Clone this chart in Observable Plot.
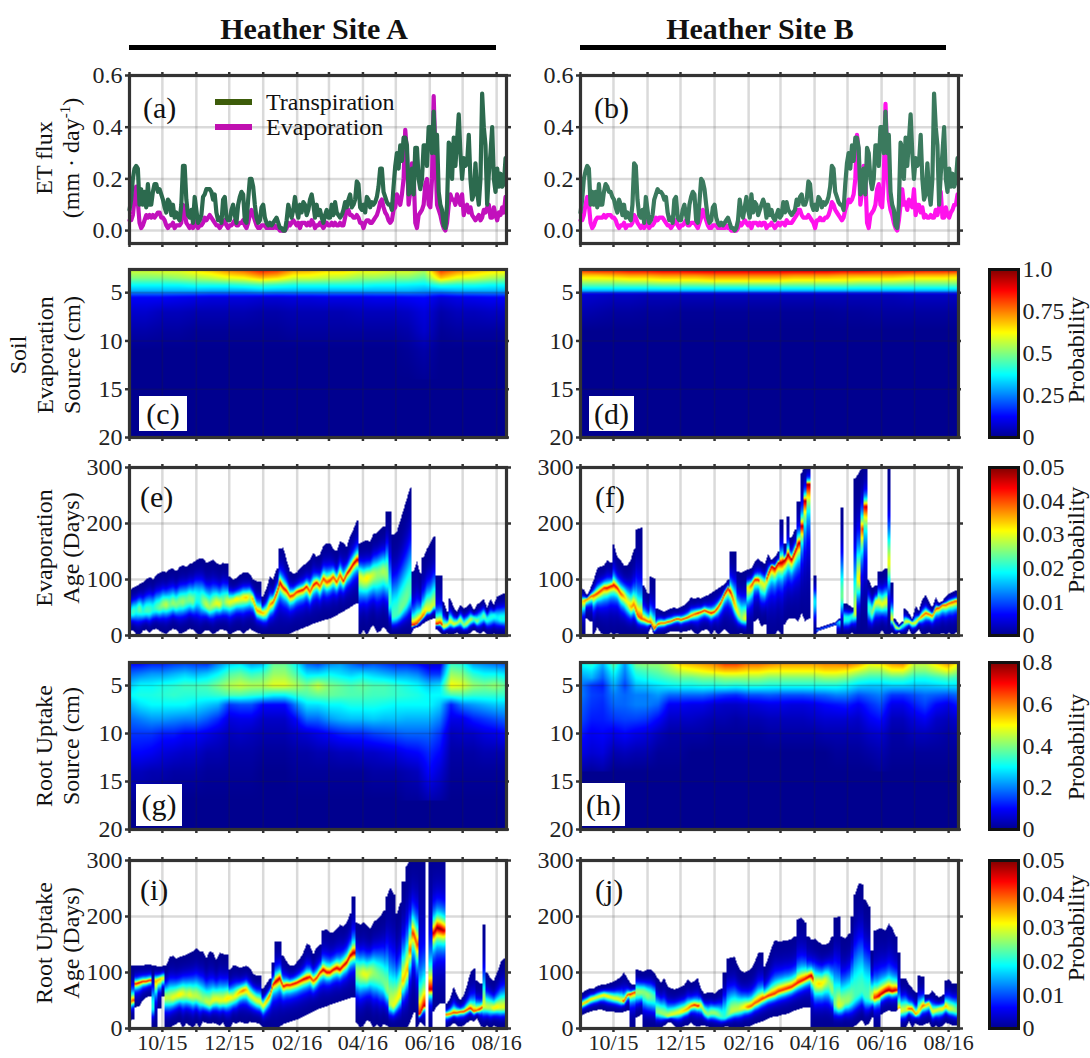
<!DOCTYPE html>
<html><head><meta charset="utf-8">
<style>
html,body{margin:0;padding:0;background:#fff}
#page{position:relative;width:1090px;height:1058px;overflow:hidden;font-family:"Liberation Serif",serif;color:#111}
.t{position:absolute;white-space:nowrap;line-height:1}
.rot{transform:translate(-50%,-50%) rotate(-90deg);text-align:center;font-size:24px;line-height:27px}
.lab{font-size:30px}
.box{background:#fff;display:flex;align-items:center;justify-content:center;font-size:30px;position:absolute}
sup{font-size:15px;line-height:0}
</style>
<script src="https://cdn.jsdelivr.net/npm/d3@7"></script>
<script src="https://cdn.jsdelivr.net/npm/@observablehq/plot@0.6"></script>
</head><body><div id="page"></div>
<script>
// ---------- time axis: days after 1 Sep 2015 ----------
const monthTicks = [0,30,61,91,122,153,182,213,243,274,304,335];
const monthLabels = ["","10/15","","12/15","","02/16","","04/16","","06/16","","08/16"];
const lastDay = 344;
const columnStep = 3.05; // age series: ten readings per month
const fluxStep = 1.525;  // flux series: twenty readings per month

// ---------- ET flux (mm/day) ----------
const transpirationA = [
.08,.12,.2,.24,.25,.24,.1,.16,.1,.15,.09,.18,.1,.1,.15,.18,.18,.15,.16,.14,
.12,.09,.07,.12,.11,.06,.1,.05,.07,.05,.04,.1,.25,.25,.12,.06,.05,.08,.03,.13,
.08,.03,.04,.06,.13,.14,.16,.16,.16,.15,.12,.14,.07,.04,.05,.03,.12,.13,.05,.04,
.04,.08,.1,.06,.03,.1,.13,.15,.14,.04,.03,.12,.2,.2,.17,.1,.05,.03,.04,.09,
.1,.05,.03,.02,.03,.02,.03,.04,.05,.03,.01,.01,.0,.0,.04,.1,.07,.05,.08,.13,
.08,.05,.1,.07,.11,.1,.06,.08,.12,.14,.1,.05,.1,.06,.08,.05,.03,.06,.08,.05,
.05,.1,.06,.11,.07,.06,.05,.06,.08,.11,.09,.12,.14,.09,.1,.12,.19,.18,.09,.08,
.1,.07,.13,.12,.09,.11,.1,.11,.13,.17,.24,.24,.15,.13,.11,.1,.1,.08,.17,.25,
.3,.24,.33,.27,.36,.36,.33,.14,.15,.24,.14,.32,.32,.2,.16,.2,.33,.33,.25,.4,
.4,.3,.46,.3,.37,.15,.1,.08,.02,.01,.1,.34,.33,.2,.36,.25,.35,.45,.3,.2,
.28,.25,.26,.37,.2,.12,.14,.26,.15,.1,.2,.53,.4,.33,.1,.22,.3,.4,.2,.15,
.24,.17,.22,.17,.18,.28];
const evaporationA = [
.04,.04,.06,.12,.17,.11,.03,.01,.02,.04,.06,.05,.06,.05,.06,.05,.06,.07,.07,.05,
.05,.04,.02,.01,.02,.02,.03,.01,.02,.02,.02,.03,.1,.07,.03,.02,.01,.02,.01,.04,
.02,.01,.02,.02,.03,.05,.04,.05,.06,.05,.04,.03,.02,.02,.01,.02,.03,.04,.02,.01,
.02,.02,.03,.04,.02,.02,.03,.03,.04,.02,.01,.03,.06,.08,.06,.04,.02,.01,.01,.02,
.02,.02,.01,.01,.01,.01,.01,.02,.01,.01,.0,.0,.0,.0,.01,.03,.02,.03,.04,.03,
.02,.03,.01,.03,.03,.03,.02,.03,.02,.04,.03,.01,.02,.02,.03,.02,.01,.02,.03,.02,
.02,.03,.02,.03,.02,.02,.03,.02,.02,.05,.08,.08,.06,.06,.05,.05,.06,.05,.03,.03,
.01,.03,.04,.04,.03,.03,.04,.05,.06,.08,.11,.12,.09,.07,.06,.04,.03,.04,.08,.09,
.14,.12,.1,.14,.2,.39,.3,.1,.15,.26,.22,.03,.01,.06,.07,.08,.1,.18,.2,.1,
.09,.2,.52,.3,.1,.08,.06,.03,.01,.0,.03,.1,.14,.12,.12,.1,.14,.12,.1,.14,
.06,.09,.1,.07,.09,.06,.05,.04,.05,.06,.04,.05,.08,.07,.09,.1,.05,.05,.09,.06,
.04,.07,.06,.09,.07,.13];
const transpirationB = [
.07,.12,.2,.23,.25,.24,.1,.15,.1,.15,.09,.18,.1,.1,.15,.18,.17,.15,.15,.13,
.12,.09,.07,.12,.1,.06,.1,.05,.07,.05,.04,.1,.26,.25,.12,.06,.05,.08,.03,.13,
.08,.03,.04,.06,.12,.14,.16,.15,.15,.14,.12,.13,.07,.04,.05,.03,.12,.13,.05,.04,
.04,.08,.1,.06,.03,.1,.13,.15,.14,.04,.03,.11,.2,.19,.16,.1,.05,.03,.04,.09,
.1,.05,.03,.02,.03,.02,.03,.04,.05,.03,.01,.01,.0,.01,.04,.12,.07,.05,.09,.13,
.08,.05,.14,.07,.11,.1,.06,.08,.1,.12,.1,.05,.1,.06,.08,.05,.04,.06,.08,.05,
.06,.11,.07,.11,.08,.07,.06,.07,.08,.12,.1,.13,.14,.1,.1,.12,.19,.18,.1,.08,
.1,.08,.13,.12,.09,.11,.1,.11,.13,.17,.25,.24,.15,.13,.11,.1,.1,.08,.18,.26,
.3,.24,.33,.27,.36,.36,.32,.14,.15,.24,.14,.32,.3,.2,.16,.2,.33,.33,.25,.4,
.4,.3,.46,.3,.37,.15,.1,.08,.02,.01,.1,.34,.32,.2,.36,.25,.35,.45,.3,.2,
.28,.25,.26,.37,.2,.12,.14,.26,.15,.1,.2,.53,.4,.33,.1,.22,.3,.4,.2,.15,
.24,.17,.22,.17,.19,.28];
const evaporationB = [
.04,.04,.06,.1,.13,.1,.03,.01,.02,.04,.05,.05,.05,.05,.06,.05,.06,.06,.06,.05,
.05,.04,.02,.01,.02,.02,.03,.01,.02,.02,.02,.03,.06,.05,.03,.02,.01,.02,.01,.04,
.02,.01,.02,.02,.03,.05,.04,.05,.05,.05,.04,.03,.02,.02,.01,.02,.03,.04,.02,.01,
.02,.02,.03,.04,.02,.02,.03,.03,.03,.02,.01,.03,.05,.08,.06,.04,.02,.01,.01,.02,
.02,.02,.01,.01,.01,.01,.01,.02,.01,.01,.0,.0,.0,.0,.01,.03,.02,.03,.04,.03,
.02,.03,.01,.03,.03,.03,.02,.03,.02,.03,.03,.01,.02,.02,.03,.02,.01,.02,.03,.02,
.03,.03,.02,.04,.03,.03,.03,.04,.05,.06,.08,.08,.06,.05,.05,.05,.06,.05,.04,.03,
.01,.04,.04,.05,.04,.04,.05,.05,.06,.08,.11,.1,.08,.07,.06,.05,.04,.05,.08,.1,
.12,.11,.12,.14,.2,.37,.3,.1,.15,.25,.2,.03,.01,.06,.07,.08,.1,.16,.18,.1,
.09,.2,.49,.28,.12,.08,.06,.03,.01,.0,.04,.1,.16,.1,.11,.08,.12,.1,.09,.16,
.06,.1,.1,.07,.09,.05,.06,.05,.05,.06,.05,.05,.08,.06,.09,.15,.05,.05,.09,.06,
.05,.07,.08,.1,.1,.14];

// ---------- source panels: probability by depth (cm) ----------
const depthsC = [2.7,3.5,4.2,4.8,5.5,7,9,11,14];
const c27 = [.58,.58,.6,.6,.64,.68,.74,.78,.85,.82,.72,.7,.66,.66,.62,.62,.6,.6,.55,.82,.75,.7,.66,.64];
const c35 = [.5,.5,.5,.52,.54,.56,.6,.62,.68,.65,.58,.58,.56,.55,.52,.52,.5,.5,.46,.68,.6,.58,.54,.52];
const c42 = [.38,.38,.38,.38,.4,.4,.4,.42,.44,.42,.4,.4,.4,.4,.4,.38,.38,.37,.36,.42,.4,.4,.38,.38];
const c48 = [.3,.3,.3,.3,.3,.29,.29,.29,.31,.3,.3,.3,.3,.3,.3,.3,.3,.3,.28,.28,.3,.3,.3,.3];
const c55 = [.12,.12,.12,.11,.1,.09,.09,.09,.08,.08,.09,.09,.1,.1,.1,.11,.11,.12,.13,.08,.1,.11,.12,.12];
const c70 = [.07,.07,.05,.05,.04,.04,.04,.04,.03,.03,.04,.04,.04,.04,.05,.05,.05,.06,.09,.03,.05,.05,.06,.06];
const c90 = [.03,.03,.02,.02,.01,.01,.01,.01,.01,.01,.02,.02,.02,.02,.02,.02,.02,.03,.07,.01,.02,.02,.02,.02];
const c110 = [0,0,0,0,0,0,0,0,0,0,0,0,0,0,0,0,0,.01,.03,0,0,0,0,0];
const c140 = [0,0,0,0,0,0,0,0,0,0,0,0,0,0,0,0,0,0,.01,0,0,0,0,0];

const depthsD = [2.7,3.2,3.8,4.3,4.8,5.2,7,9,12];
const d27 = [.82,.85,.85,.88,.88,.9,.9,.92,.92,.92,.92,.92,.92,.92,.92,.92,.9,.9,.88,.88,.88,.86,.86,.85];
const d32 = [.68,.68,.7,.72,.72,.74,.74,.74,.76,.76,.76,.76,.76,.74,.74,.74,.72,.72,.72,.72,.7,.7,.7,.68];
const d38 = [.56,.56,.56,.58,.58,.6,.6,.6,.62,.62,.62,.62,.62,.6,.6,.6,.6,.58,.58,.58,.56,.56,.56,.56];
const d43 = [.44,.44,.44,.44,.44,.45,.45,.45,.45,.45,.45,.45,.45,.45,.45,.45,.45,.44,.44,.44,.44,.44,.44,.44];
const d48 = [.3,.3,.3,.3,.3,.3,.3,.3,.3,.3,.3,.3,.3,.3,.3,.3,.3,.3,.3,.3,.3,.3,.3,.3];
const d52 = [.08,.07,.06,.06,.05,.05,.05,.05,.05,.05,.05,.05,.05,.05,.05,.05,.05,.05,.05,.05,.06,.06,.06,.06];
const d70 = [.04,.03,.02,.02,.015,.015,.01,.01,.01,.01,.01,.01,.01,.01,.01,.01,.015,.015,.02,.02,.02,.02,.02,.02];
const d90 = [0,0,0,0,0,0,0,0,0,0,0,0,0,0,0,0,0,0,0,0,0,0,0,0];
const d120 = [0,0,0,0,0,0,0,0,0,0,0,0,0,0,0,0,0,0,0,0,0,0,0,0];

const depthsG = [2.7,3.8,5,6,7,8.5,10,12,14,17];
const g27 = [.1,.1,.12,.12,.14,.15,.14,.13,.2,.26,.28,.22,.24,.38,.38,.3,.18,.15,.2,.22,.18,.14,.16,.14,.12,.12,.1,.06,.06,.34,.32,.22,.2,.18,.16];
const g38 = [.18,.2,.22,.22,.24,.26,.24,.26,.3,.36,.38,.34,.36,.42,.42,.36,.28,.28,.3,.28,.26,.28,.26,.24,.22,.22,.2,.14,.14,.42,.4,.33,.3,.3,.28];
const g50 = [.26,.3,.3,.32,.33,.35,.35,.36,.4,.44,.46,.44,.44,.48,.48,.44,.4,.46,.4,.38,.36,.38,.36,.36,.34,.32,.3,.26,.28,.5,.48,.42,.4,.42,.38];
const g60 = [.3,.32,.32,.33,.34,.33,.33,.33,.34,.36,.36,.34,.33,.3,.3,.34,.36,.38,.38,.37,.36,.36,.35,.35,.34,.33,.32,.3,.3,.35,.36,.34,.34,.34,.34];
const g70 = [.24,.28,.3,.3,.3,.3,.28,.26,.24,.14,.16,.16,.1,.1,.1,.2,.28,.28,.3,.3,.32,.32,.32,.31,.3,.3,.3,.3,.26,.12,.2,.22,.24,.26,.26];
const g85 = [.18,.2,.22,.22,.21,.2,.2,.17,.13,.07,.08,.08,.05,.05,.05,.1,.18,.18,.22,.24,.25,.25,.26,.25,.25,.24,.24,.24,.2,.08,.08,.12,.14,.16,.18];
const g100 = [.14,.14,.14,.12,.12,.1,.1,.08,.06,.04,.05,.04,.03,.03,.03,.05,.06,.08,.1,.12,.13,.13,.15,.16,.17,.18,.18,.18,.14,.04,.05,.05,.07,.08,.1];
const g120 = [.1,.1,.09,.07,.06,.05,.05,.03,.03,.02,.02,.02,.01,.01,.01,.02,.02,.03,.03,.04,.04,.05,.05,.06,.07,.09,.1,.13,.1,.02,.02,.02,.03,.03,.03];
const g140 = [.04,.04,.03,.03,.02,.02,.02,.01,.01,.01,.01,.01,0,0,0,.01,.01,.01,.01,.01,.01,.01,.02,.02,.02,.03,.04,.1,.06,.01,.01,.01,.01,.01,.01];
const g170 = [.01,.01,.01,0,0,0,0,0,0,0,0,0,0,0,0,0,0,0,0,0,0,0,0,0,0,.01,.01,.03,.02,0,0,0,0,0,0];

const depthsH = [2.7,3.5,4.2,5,6,7,8.5,10,12,14];
const h27 = [.3,.34,.24,.38,.22,.4,.42,.42,.46,.54,.56,.58,.6,.66,.66,.62,.62,.6,.58,.58,.58,.58,.6,.6,.62,.58,.5,.52,.58,.6,.46,.46,.52,.58,.5];
const h35 = [.26,.28,.2,.32,.2,.34,.36,.38,.42,.46,.48,.5,.52,.54,.54,.52,.52,.5,.5,.5,.5,.5,.52,.52,.5,.46,.42,.42,.48,.48,.4,.4,.44,.48,.42];
const h42 = [.22,.24,.17,.28,.18,.3,.32,.34,.36,.38,.38,.4,.4,.42,.42,.42,.42,.4,.4,.4,.4,.4,.42,.42,.4,.36,.34,.34,.36,.36,.32,.32,.34,.36,.34];
const h50 = [.2,.14,.12,.24,.15,.25,.26,.28,.3,.31,.31,.32,.32,.33,.32,.33,.33,.32,.32,.32,.32,.32,.32,.32,.3,.27,.26,.26,.27,.27,.26,.26,.27,.28,.28];
const h60 = [.2,.15,.14,.2,.18,.2,.2,.22,.18,.18,.18,.18,.16,.14,.13,.16,.16,.17,.16,.16,.16,.17,.18,.2,.2,.16,.18,.2,.14,.14,.16,.18,.17,.16,.18];
const h70 = [.18,.14,.13,.18,.18,.2,.2,.18,.09,.09,.08,.08,.06,.05,.05,.06,.07,.08,.08,.07,.07,.08,.1,.11,.12,.09,.13,.16,.08,.08,.12,.15,.1,.08,.12];
const h85 = [.16,.12,.12,.14,.15,.15,.14,.1,.05,.05,.05,.04,.03,.03,.02,.03,.03,.04,.04,.04,.04,.05,.06,.06,.06,.05,.09,.11,.04,.04,.07,.09,.05,.04,.06];
const h100 = [.12,.09,.1,.08,.1,.08,.07,.04,.02,.02,.02,.02,.01,.01,.01,.01,.01,.02,.02,.02,.02,.02,.03,.03,.03,.03,.05,.06,.02,.02,.04,.04,.03,.02,.03];
const h120 = [.08,.06,.07,.03,.04,.03,.03,.01,.01,.01,0,0,0,0,0,0,0,0,0,0,0,0,0,.01,.01,.01,.02,.03,.01,.01,.01,.01,.01,.01,.01];
const h140 = [.02,.01,.02,0,0,0,0,0,0,0,0,0,0,0,0,0,0,0,0,0,0,0,0,0,0,0,0,.01,0,0,0,0,0,0,0];

// ---------- age panels: upper edge, lower edge, ridge (days), ridge probability ----------
const eHigh = [
80,85,88,92,95,100,105,100,108,112,
115,113,118,120,115,122,125,123,128,130,
135,138,138,130,132,135,130,126,130,128,
105,100,102,108,112,113,110,100,97,96,
70,85,105,100,120,155,157,135,115,110,
112,120,125,130,135,148,140,145,160,165,
165,155,150,168,165,158,178,190,205,165,
168,170,168,182,183,190,195,222,222,180,
186,205,225,245,265,115,132,110,140,155,
165,177,108,108,60,42,66,50,42,55,
48,52,58,45,55,60,65,50,65,55,
70,72,75];
const eLow = [
8,10,2,0,8,10,5,10,12,8,
5,2,8,12,10,3,5,8,12,10,
4,0,6,10,8,2,6,10,10,8,
0,5,8,10,3,8,12,8,5,3,
0,0,0,0,0,0,0,0,3,6,
9,11,13,16,18,21,23,25,27,29,
30,33,36,40,43,47,50,54,58,0,
10,0,12,18,5,8,15,8,0,0,
0,0,0,0,0,12,14,16,22,25,
28,30,10,5,0,3,0,2,5,0,
2,0,5,10,6,3,8,2,0,3,
0,2,0];
const eRidge = [
40,42,45,48,42,45,45,47,50,50,
55,55,55,58,55,60,60,62,65,62,
68,65,60,55,50,55,58,55,60,60,
60,62,65,65,68,68,70,65,45,42,
40,42,55,60,75,95,85,80,70,72,
78,80,82,88,78,90,95,88,102,95,
98,105,95,108,96,110,118,128,135,105,
100,103,105,108,110,112,115,110,60,35,
38,45,55,65,80,18,20,28,35,45,
45,55,20,22,15,18,25,20,22,28,
18,22,28,30,25,30,35,28,32,35,
32,30,30];
const ePeak = [
.018,.022,.02,.024,.02,.022,.022,.02,.022,.024,
.026,.028,.024,.026,.025,.025,.026,.024,.025,.025,
.02,.02,.025,.028,.026,.028,.03,.03,.024,.028,
.03,.03,.032,.03,.032,.034,.028,.036,.036,.036,
.035,.03,.036,.04,.045,.048,.045,.044,.042,.042,
.043,.045,.045,.045,.04,.046,.045,.04,.042,.04,
.042,.04,.042,.04,.045,.047,.048,.048,.048,.03,
.03,.032,.03,.028,.026,.026,.027,.026,.02,.022,
.022,.024,.024,.024,.022,.045,.042,.04,.038,.03,
.03,.028,.045,.044,.03,.03,.03,.03,.028,.028,
.025,.028,.028,.022,.025,.02,.024,.02,.02,.02,
.018,.02,.02];

const fHigh = [
84,82,72,85,100,120,123,125,135,130,
162,140,135,125,125,135,155,190,192,90,
75,105,102,48,45,42,46,48,50,48,
52,54,60,68,66,68,66,70,72,76,
80,84,88,92,100,150,150,115,112,115,
118,120,132,138,132,128,145,135,140,150,
207,165,212,175,190,240,290,305,305,0,
108,14,16,18,20,22,24,30,228,58,
55,50,280,290,300,305,100,85,90,115,
115,120,305,95,30,20,25,48,40,30,
52,45,65,72,60,50,68,58,62,70,
75,78,80];
const fLow = [
0,0,30,25,0,15,5,0,0,5,
0,5,0,0,0,0,0,0,0,0,
0,15,0,0,0,2,5,8,8,8,
5,8,8,10,5,0,8,10,10,0,
10,0,5,12,5,0,0,0,5,0,
0,0,25,30,15,20,0,0,0,10,
0,20,30,30,30,25,40,25,30,0,
0,8,10,12,14,16,18,0,0,0,
0,5,0,0,0,0,0,0,0,0,
10,0,0,5,0,5,0,0,10,0,
5,10,0,2,5,0,0,0,5,0,
5,0,5];
const fRidge = [
60,62,65,70,72,75,80,85,85,88,
90,85,75,70,60,50,55,35,30,28,
25,22,10,20,22,22,24,25,28,30,
28,30,32,35,38,40,42,45,42,40,
42,50,60,75,85,75,55,40,30,30,
85,90,100,100,95,90,110,125,120,130,
130,135,145,135,150,165,195,240,270,0,
60,10,12,14,16,18,20,25,70,30,
30,35,40,100,190,230,50,40,60,60,
55,60,130,30,15,12,18,25,25,22,
22,30,35,40,38,35,48,50,55,55,
58,60,62];
const fPeak = [
.03,.035,.04,.04,.04,.042,.042,.042,.045,.045,
.045,.045,.04,.035,.03,.035,.038,.04,.04,.04,
.04,.04,.04,.045,.04,.04,.042,.042,.045,.045,
.045,.045,.045,.04,.04,.045,.045,.045,.045,.045,
.045,.045,.045,.048,.048,.045,.035,.03,.025,.03,
.03,.04,.045,.045,.03,.03,.045,.048,.048,.048,
.048,.05,.05,.048,.048,.048,.048,.048,.05,0,
.018,.012,.012,.012,.012,.012,.012,.015,.025,.02,
.02,.02,.03,.03,.04,.047,.02,.025,.03,.03,
.03,.03,.03,.03,.03,.03,.02,.03,.03,.03,
.03,.035,.04,.04,.04,.04,.042,.042,.04,.04,
.04,.04,.04];

const iHigh = [
112,113,112,113,113,114,114,113,112,110,
112,112,128,130,125,128,130,132,135,138,
143,138,138,125,138,135,122,135,133,132,
105,112,112,108,110,112,108,98,95,95,
72,80,90,118,155,155,130,120,112,112,
118,125,135,152,148,132,145,150,175,178,
172,172,178,185,182,190,205,235,190,185,
190,185,178,190,195,200,210,235,252,240,
205,225,262,290,305,305,305,305,305,0,
305,305,305,305,305,45,55,75,60,50,
60,78,100,108,85,80,185,100,90,85,
100,118,125];
const iLow = [
14,16,38,40,50,55,58,0,0,35,
58,0,0,5,8,12,0,10,5,0,
10,0,12,10,8,10,8,5,10,0,
0,12,8,12,10,8,12,10,10,8,
0,0,0,0,0,3,8,10,12,14,
16,18,21,24,27,30,33,36,38,40,
42,44,46,48,50,52,54,56,10,0,
5,15,12,0,8,0,8,5,0,0,
0,0,0,0,12,28,0,12,6,0,
0,30,40,45,45,0,5,10,5,3,
5,10,15,12,18,5,0,5,0,5,
2,0,2];
const iRidge = [
46,50,80,82,84,84,86,40,85,88,
90,55,55,55,58,60,62,60,60,58,
58,55,50,48,45,50,52,50,50,52,
55,55,60,65,68,70,60,55,50,48,
40,50,60,80,85,90,75,78,78,80,
82,85,88,90,92,85,90,100,105,100,
100,105,108,105,112,118,130,135,100,98,
98,95,100,100,95,92,85,70,45,40,
50,62,85,105,140,170,150,25,40,0,
70,170,180,178,175,25,26,28,28,30,
30,33,36,30,32,35,40,38,38,36,
38,38,38];
const iPeak = [
.036,.04,.046,.046,.046,.046,.046,.02,.035,.035,
.03,.028,.028,.03,.03,.032,.03,.028,.03,.028,
.028,.027,.026,.028,.028,.03,.03,.03,.03,.032,
.032,.03,.032,.035,.038,.034,.03,.03,.03,.03,
.03,.035,.04,.046,.048,.048,.045,.045,.045,.046,
.046,.046,.047,.047,.045,.04,.045,.046,.047,.046,
.046,.046,.047,.047,.047,.048,.048,.049,.026,.028,
.03,.03,.028,.026,.025,.024,.024,.025,.028,.03,
.031,.032,.034,.034,.038,.042,.04,.045,.047,0,
.047,.047,.05,.05,.048,.04,.04,.042,.042,.045,
.045,.042,.045,.04,.04,.045,.03,.028,.028,.032,
.032,.03,.03];

const jHigh = [
62,66,70,72,72,76,78,78,80,82,
84,88,92,100,90,80,78,105,103,102,
105,105,100,90,82,90,75,72,70,72,
75,78,88,82,85,90,70,62,65,65,
62,68,72,100,125,127,128,112,102,100,
103,108,118,135,135,110,125,145,158,156,
156,158,158,160,165,195,198,190,165,158,
160,155,150,150,152,165,198,200,165,160,
170,200,240,260,258,230,218,140,175,178,
178,175,187,180,165,135,90,90,78,72,
65,95,92,60,60,68,60,55,60,85,
88,80,80];
const jLow = [
22,25,28,30,32,33,35,32,30,30,
30,28,28,30,32,0,0,20,25,0,
0,0,0,0,0,5,10,10,5,0,
0,5,5,10,5,3,5,5,3,2,
0,0,0,3,3,0,2,0,0,3,
3,5,8,10,12,15,18,20,22,22,
24,25,27,30,32,34,36,38,38,0,
0,0,0,0,0,0,0,0,0,2,
0,0,5,10,15,5,8,20,0,0,
25,30,32,30,30,35,0,0,12,0,
10,5,5,8,10,0,5,0,5,10,
8,5,5];
const jRidge = [
42,45,48,52,54,56,58,60,58,56,
54,53,50,48,60,62,65,65,65,65,
60,58,55,30,28,25,22,24,26,28,
30,32,35,40,42,40,42,30,25,28,
28,25,22,20,25,30,32,34,36,38,
38,40,45,48,52,55,58,60,62,66,
68,70,72,74,78,82,85,88,92,95,
80,80,80,85,85,70,45,40,42,48,
50,55,60,65,70,60,58,55,55,58,
62,66,68,66,68,30,32,34,35,35,
25,30,40,42,45,30,32,35,35,40,
35,35,32];
const jPeak = [
.034,.034,.036,.032,.032,.03,.032,.032,.032,.03,
.03,.03,.03,.042,.044,.044,.042,.026,.026,.025,
.026,.024,.022,.025,.026,.026,.028,.03,.03,.03,
.032,.034,.036,.04,.044,.044,.03,.027,.025,.026,
.026,.025,.022,.02,.024,.028,.028,.028,.03,.032,
.038,.04,.04,.04,.042,.042,.043,.042,.042,.042,
.042,.042,.043,.043,.044,.044,.044,.045,.047,.048,
.03,.033,.032,.03,.026,.026,.024,.03,.028,.026,
.026,.024,.022,.022,.022,.022,.022,.03,.042,.047,
.048,.049,.049,.048,.048,.042,.03,.028,.04,.04,
.038,.032,.04,.035,.035,.03,.03,.03,.032,.035,
.03,.028,.025];

// ---------- colour bars ----------
const barTicks1 = [0,.25,.5,.75,1];    const barLabels1 = ["0","0.25","0.5","0.75","1.0"];
const barTicks2 = [0,.01,.02,.03,.04,.05]; const barLabels2 = ["0","0.01","0.02","0.03","0.04","0.05"];
const barTicks3 = [0,.2,.4,.6,.8];     const barLabels3 = ["0","0.2","0.4","0.6","0.8"];
const jetStops = [0,.125,.375,.625,.875,1];
const jetColors = ["#00008f","#0000ff","#00ffff","#ffff00","#ff0000","#800000"];

// ---------- geometry and style ----------
const FONT = '"Liberation Serif", serif';
const FRAME = "#333";
const columns = {A:{svgLeft:0,width:520,marginLeft:129,marginRight:14}, B:{svgLeft:520,width:450,marginLeft:60,marginRight:12}};
const rows = {top1:[75,243],top2:[269,437],top3:[467,635],top4:[662,829],top5:[860,1028]};
const page = document.getElementById("page");

const jet = max => ({type:"linear",domain:jetStops.map(s=>s*max),range:jetColors,clamp:true});

function surface(depths, table){
  const cols = table[0].length;
  return (x,y)=>{
    const f = Math.max(0,Math.min(cols-1.001,x/lastDay*(cols-1)));
    const c = Math.floor(f), u = f-c;
    const at = r => table[r][c]*(1-u)+table[r][c+1]*u;
    if (y<=depths[0]) return at(0);
    for (let r=1;r<depths.length;r++) if (y<=depths[r]) {
      const v=(y-depths[r-1])/(depths[r]-depths[r-1]);
      return at(r-1)*(1-v)+at(r)*v;
    }
    return 0;
  };
}
function band(hi,lo,mid,peak){
  const read=(a,i,u,jump)=>{const p=a[i],q=a[Math.min(i+1,a.length-1)];return Math.abs(p-q)>jump?(u<.5?p:q):p+(q-p)*u;};
  return (x,y)=>{
    const f=Math.max(0,Math.min(hi.length-1,x/columnStep));
    const i=Math.floor(f),u=f-i;
    const H=read(hi,i,u,22),L=read(lo,i,u,16),M=read(mid,i,u,22),P=read(peak,i,u,.012);
    if (y>H||y<L||H<=L) return NaN;
    const s=y>=M?(H-M):(M-L);
    const t=Math.min(1,Math.abs(y-M)/Math.max(s,1));
    const w=Math.max(0,Math.min(1,(P-.022)/.023));
    return P*Math.exp(-Math.pow(t/(.45-.24*w),2-w));
  };
}
function panel(col,row,yDomain,yTicks,yFormat,opts={}){
  const c=columns[col],[t,b]=rows[row];
  const bottom=opts.labels?30:10;
  const ticks=monthTicks.slice(1);
  const grid=opts.heat
    ? {stroke:"#222",strokeOpacity:.2,strokeWidth:1.6}
    : {stroke:"#777",strokeOpacity:.27,strokeWidth:2.5};
  const grids=[Plot.gridX(ticks,grid),Plot.gridY(yTicks,grid)];
  const body=opts.heat?[...opts.marks,...grids]:[...grids,...opts.marks];
  const svg=Plot.plot({
    width:c.width,height:b-t+10+bottom,
    marginLeft:c.marginLeft,marginRight:c.marginRight,marginTop:10,marginBottom:bottom,
    x:{type:"linear",domain:[0,lastDay]},
    y:{type:"linear",domain:yDomain},
    color:opts.color,
    style:{position:"absolute",left:c.svgLeft+"px",top:(t-10)+"px",fontFamily:FONT,fontSize:"24px",color:"#222",background:"transparent",overflow:"visible"},
    marks:[
      ...body,
      Plot.axisY(yTicks,{anchor:"left",tickSize:4,strokeWidth:2.5,stroke:FRAME,tickPadding:3,tickFormat:yFormat,fontSize:24,label:null}),
      Plot.axisX(monthTicks,{anchor:"bottom",tickSize:4,strokeWidth:2.5,stroke:FRAME,tickPadding:2,fontSize:22,label:null,
        tickFormat:d=>opts.labels?monthLabels[monthTicks.indexOf(d)]:null}),
      Plot.axisX(monthTicks,{anchor:"top",tickSize:opts.heat?2:4,strokeWidth:2.5,stroke:FRAME,label:null,tickFormat:()=>null}),
      Plot.axisY(yTicks,{anchor:"right",tickSize:opts.heat?2:4,strokeWidth:2.5,stroke:FRAME,label:null,tickFormat:()=>null}),
      Plot.frame({stroke:FRAME,strokeWidth:3.2})
    ]
  });
  page.appendChild(svg);
}
const heat=(fn,yd)=>[Plot.raster({x1:0,x2:lastDay,y1:yd[0],y2:yd[1],fill:fn,imageRendering:"auto"})];
const linePair=(T,E,tc,ec)=>[
  Plot.line(E,{x:(d,i)=>i*fluxStep,y:d=>d,stroke:ec,strokeWidth:4.2,strokeLinejoin:"round"}),
  Plot.line(T,{x:(d,i)=>i*fluxStep,y:d=>d,stroke:tc,strokeWidth:4.2,strokeLinejoin:"round"})
];
const f1=d3.format(".1f"), fInt=d3.format("d");
const depthDomain=[20,2.6], ageDomain=[0,300], etDomain=[-.05,.6];
const depthTicks=[5,10,15,20], ageTicks=[0,100,200,300], etTicks=[0,.2,.4,.6];

panel("A","top1",etDomain,etTicks,f1,{marks:linePair(transpirationA,evaporationA,"#2c6a4e","#c210bc")});
panel("B","top1",etDomain,etTicks,f1,{marks:linePair(transpirationB,evaporationB,"#3b7a5e","#ff12ec")});
panel("A","top2",depthDomain,depthTicks,fInt,{heat:true,color:jet(1),marks:heat(surface(depthsC,[c27,c35,c42,c48,c55,c70,c90,c110,c140]),depthDomain)});
panel("B","top2",depthDomain,depthTicks,fInt,{heat:true,color:jet(1),marks:heat(surface(depthsD,[d27,d32,d38,d43,d48,d52,d70,d90,d120]),depthDomain)});
panel("A","top3",ageDomain,ageTicks,fInt,{color:jet(.05),marks:heat(band(eHigh,eLow,eRidge,ePeak),ageDomain)});
panel("B","top3",ageDomain,ageTicks,fInt,{color:jet(.05),marks:heat(band(fHigh,fLow,fRidge,fPeak),ageDomain)});
panel("A","top4",depthDomain,depthTicks,fInt,{heat:true,color:jet(.8),marks:heat(surface(depthsG,[g27,g38,g50,g60,g70,g85,g100,g120,g140,g170]),depthDomain)});
panel("B","top4",depthDomain,depthTicks,fInt,{heat:true,color:jet(.8),marks:heat(surface(depthsH,[h27,h35,h42,h50,h60,h70,h85,h100,h120,h140]),depthDomain)});
panel("A","top5",ageDomain,ageTicks,fInt,{labels:true,color:jet(.05),marks:heat(band(iHigh,iLow,iRidge,iPeak),ageDomain)});
panel("B","top5",ageDomain,ageTicks,fInt,{labels:true,color:jet(.05),marks:heat(band(jHigh,jLow,jRidge,jPeak),ageDomain)});

function colorbar(row,max,ticks,labels){
  const [t,b]=rows[row];
  page.appendChild(Plot.plot({
    width:110,height:b-t+20,marginLeft:20,marginRight:61,marginTop:10,marginBottom:10,
    x:{domain:[0,1],axis:null},y:{domain:[0,max]},color:jet(max),
    style:{position:"absolute",left:"969px",top:(t-10)+"px",fontFamily:FONT,fontSize:"24px",color:"#222",background:"transparent",overflow:"visible"},
    marks:[
      Plot.raster({x1:0,x2:1,y1:0,y2:max,fill:(x,y)=>y}),
      Plot.axisY(ticks,{anchor:"right",tickSize:0,tickPadding:4,fontSize:24,label:null,tickFormat:d=>labels[ticks.indexOf(d)]}),
      Plot.frame({stroke:"#111",strokeWidth:3})
    ]
  }));
}
colorbar("top2",1,barTicks1,barLabels1);
colorbar("top3",.05,barTicks2,barLabels2);
colorbar("top4",.8,barTicks3,barLabels3);
colorbar("top5",.05,barTicks2,barLabels2);

// ---------- text ----------
function text(html,x,y,cls="",style=""){
  const d=document.createElement("div");d.className="t "+cls;d.innerHTML=html;
  d.style.cssText=`left:${x}px;top:${y}px;${style}`;page.appendChild(d);return d;
}
function rule(x1,x2,y,h,color){
  const d=document.createElement("div");d.style.cssText=`position:absolute;left:${x1}px;top:${y}px;width:${x2-x1}px;height:${h}px;background:${color}`;page.appendChild(d);
}
text("Heather Site A",314,14,"","font-weight:bold;font-size:30px;transform:translateX(-50%)");
text("Heather Site B",760,14,"","font-weight:bold;font-size:30px;transform:translateX(-50%)");
rule(129,496,45,5,"#000"); rule(580,946,45,5,"#000");

const ylabels=[["ET flux<br>(mm · day<sup>-1</sup>)",58,158],["Soil<br>Evaporation<br>Source (cm)",45,355],["Evaporation<br>Age (Days)",58,548],["Root Uptake<br>Source (cm)",58,746],["Root Uptake<br>Age (Days)",58,943]];
ylabels.forEach(([s,x,y])=>text(s,x,y,"rot"));
[350,540,747,928].forEach(y=>text("Probability",1076,y,"rot"));

[["(a)",143,93],["(b)",594,93],["(e)",140,482],["(f)",595,482],["(i)",140,875],["(j)",595,875]].forEach(([s,x,y])=>text(s,x,y,"lab"));
[["(c)",139,396,48,35],["(d)",589,396,45,35],["(g)",136,784,46,42],["(h)",582,783,43,43]].forEach(([s,x,y,w,h])=>{
  const d=document.createElement("div");d.className="box";d.textContent=s;
  d.style.cssText=`left:${x}px;top:${y}px;width:${w}px;height:${h}px`;page.appendChild(d);
});
rule(215,252,99,6,"#3d5c0a"); rule(215,252,124,6,"#c010b0");
text("Transpiration",266,90,"","font-size:24px");
text("Evaporation",266,115,"","font-size:24px");
</script></body></html>
